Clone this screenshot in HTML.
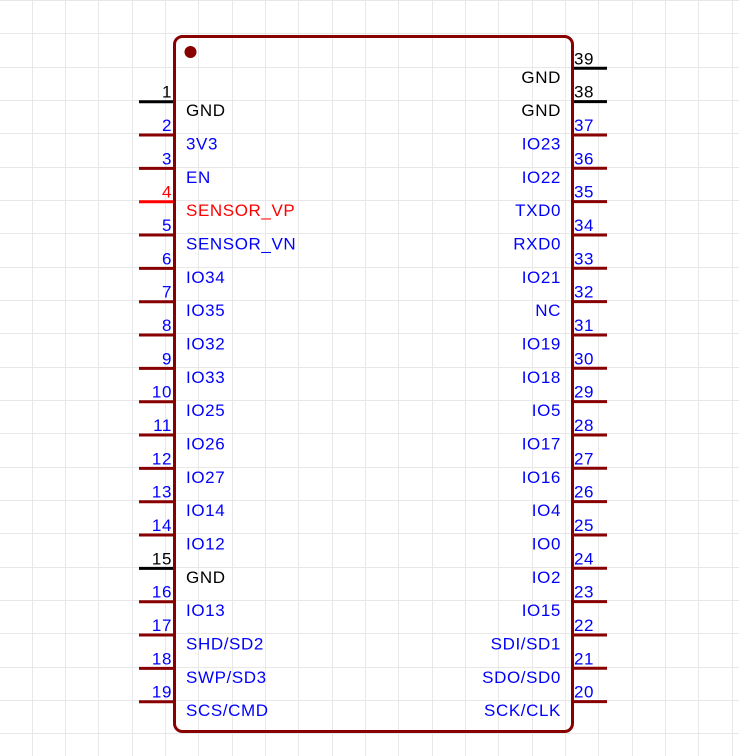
<!DOCTYPE html>
<html><head><meta charset="utf-8"><style>
html,body{margin:0;padding:0;background:#fff;}
svg{display:block;}
text{font-family:"Liberation Sans",sans-serif;font-size:17px;letter-spacing:0.6px;}
</style></head><body>
<svg width="739" height="756" viewBox="0 0 739 756" xmlns="http://www.w3.org/2000/svg">
<g stroke="#e8e8e8" stroke-width="1" id="grid"></g>
<g id="pins"></g>
<rect x="174.5" y="36.5" width="398" height="695" rx="8" ry="8" fill="none" stroke="#880000" stroke-width="3"/>
<circle cx="190.5" cy="52" r="6" fill="#880000"/>
<script>
const ns="http://www.w3.org/2000/svg";
const g=document.getElementById('grid');
function el(p,t,a,txt){const e=document.createElementNS(ns,t);for(const k in a)e.setAttribute(k,a[k]);if(txt!==undefined)e.textContent=txt;p.appendChild(e);return e;}
for(let i=0;i<24;i++){const x=Math.round(i*33.333-1.7)+0.5;el(g,'line',{x1:x,y1:0,x2:x,y2:756});}
for(let i=0;i<24;i++){const y=Math.round(i*33.333)+0.5;el(g,'line',{x1:0,y1:y,x2:739,y2:y});}
const P=document.getElementById('pins');
const left=["GND","3V3","EN","SENSOR_VP","SENSOR_VN","IO34","IO35","IO32","IO33","IO25","IO26","IO27","IO14","IO12","GND","IO13","SHD/SD2","SWP/SD3","SCS/CMD"];
const right={39:"GND",38:"GND",37:"IO23",36:"IO22",35:"TXD0",34:"RXD0",33:"IO21",32:"NC",31:"IO19",30:"IO18",29:"IO5",28:"IO17",27:"IO16",26:"IO4",25:"IO0",24:"IO2",23:"IO15",22:"SDI/SD1",21:"SDO/SD0",20:"SCK/CLK"};
left.forEach((n,i)=>{const k=i+1;const y=101.7+i*33.333;
 let lc="#880000",nc="#0000ff",tc="#0000ff";
 if(n==="GND"){lc="#000";nc="#000";tc="#000";}
 if(k===4){lc="#ff0000";nc="#ff0000";tc="#ff0000";}
 el(P,'line',{x1:139,y1:y,x2:174,y2:y,stroke:lc,'stroke-width':3});
 el(P,'text',{x:172,y:y-4,fill:nc,'text-anchor':'end','letter-spacing':0},String(k));
 el(P,'text',{x:186,y:y+14.5,fill:tc},n);
});
for(let k=39;k>=20;k--){const i=39-k;const y=68.3+i*33.333;const n=right[k];
 let lc="#880000",nc="#0000ff",tc="#0000ff";
 if(n==="GND"){lc="#000";nc="#000";tc="#000";}
 el(P,'line',{x1:573,y1:y,x2:607,y2:y,stroke:lc,'stroke-width':3});
 el(P,'text',{x:574,y:y-4,fill:nc,'letter-spacing':0},String(k));
 el(P,'text',{x:561,y:y+14.5,fill:tc,'text-anchor':'end'},n);
}
</script>
</svg>
</body></html>
